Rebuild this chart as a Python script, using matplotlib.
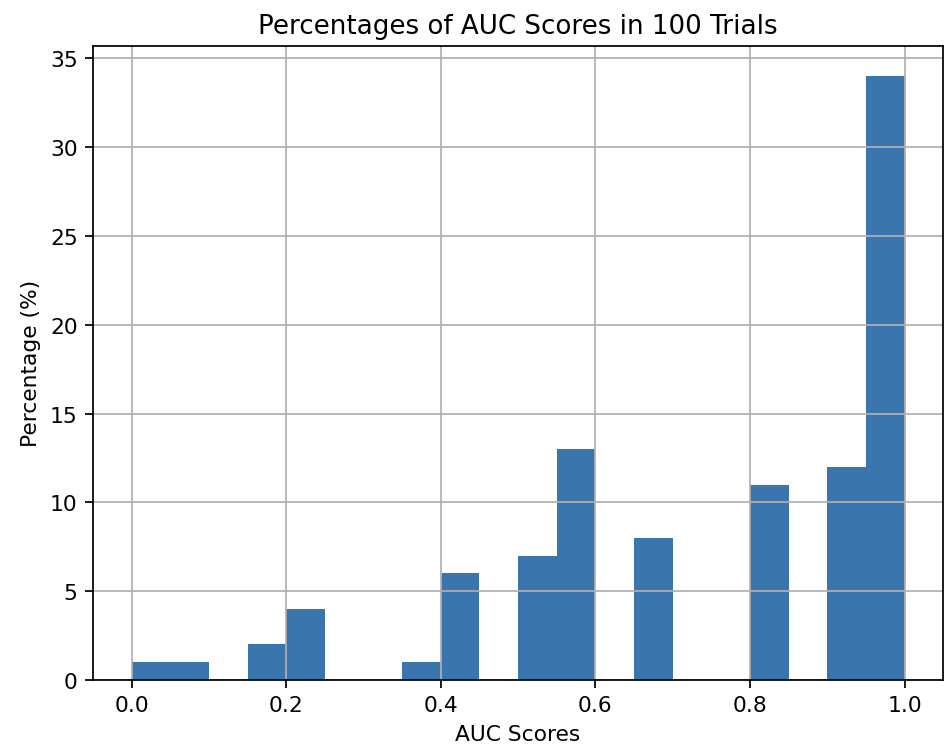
import numpy as np
import matplotlib.pyplot as plt

# histogram bins (width 0.05) and percentage of trials in each
bin_edges = np.linspace(0.0, 1.0, 21)
percentages = [1, 1, 0, 2, 4, 0, 0, 1, 6, 0,
               7, 13, 0, 8, 0, 0, 11, 0, 12, 34]

fig = plt.figure(figsize=(948 / 157, 755 / 157), dpi=157)
ax = fig.add_axes([0.098, 0.098, 0.897, 0.840])

ax.hist(bin_edges[:-1], bins=bin_edges, weights=percentages,
        color='#3a75ae')
ax.grid(True)
ax.set_title('Percentages of AUC Scores in 100 Trials')
ax.set_xlabel('AUC Scores')
ax.set_ylabel('Percentage (%)')

fig.savefig('out.png', dpi=157)
